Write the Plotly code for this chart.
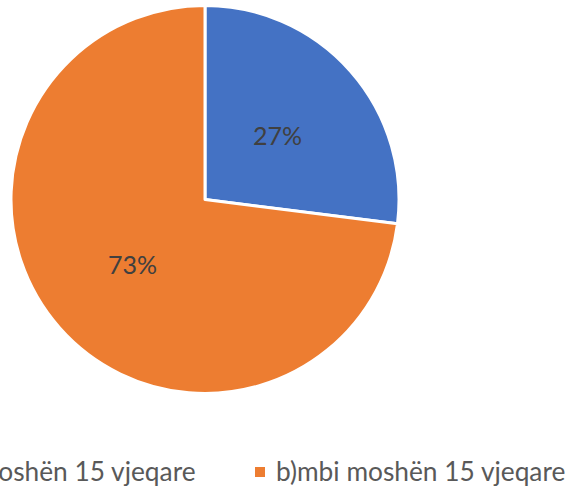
import math
import plotly.graph_objects as go

labels = ["a)nën moshën 15 vjeqare", "b)mbi moshën 15 vjeqare"]
values = [27, 73]
colors = ["#4472C4", "#ED7D31"]

W, H = 565, 486
cx, cy, r = 205, 199.5, 194  # pie centre / radius in pixels (from top-left)


def px_x(x):
    return x / W


def px_y(y):
    return (H - y) / H


fig = go.Figure()
fig.add_trace(go.Pie(
    labels=labels,
    values=values,
    sort=False,
    direction="clockwise",
    rotation=0,
    marker=dict(colors=colors, line=dict(color="white", width=3)),
    textinfo="none",
    domain=dict(x=[px_x(cx - r), px_x(cx + r)], y=[px_y(cy + r), px_y(cy - r)]),
    hoverinfo="label+percent",
    showlegend=False,
))

# percentage labels at half radius along each slice's mid-angle
total = sum(values)
start = 0.0
for v in values:
    mid = (start + v / 2) / total * 2 * math.pi
    start += v
    fig.add_annotation(
        x=px_x(cx + 0.5 * r * math.sin(mid)),
        y=px_y(cy - 0.5 * r * math.cos(mid)),
        xref="paper", yref="paper",
        text=f"{round(v / total * 100)}%", showarrow=False,
        xanchor="center", yanchor="middle",
        font=dict(family="Lato", size=25, color="#404040"),
    )

# legend row along the bottom: colour square + label for each slice
legend_y = 472
legend_entries = [
    # (square left edge, text anchor x, text anchor side)
    (-18, 198, "right"),
    (255, 274, "left"),
]
for (sq_x, tx, anchor), lab, col in zip(legend_entries, labels, colors):
    fig.add_shape(
        type="rect", xref="paper", yref="paper",
        x0=px_x(sq_x), x1=px_x(sq_x + 10),
        y0=px_y(legend_y + 5), y1=px_y(legend_y - 5),
        fillcolor=col, line=dict(width=0),
    )
    fig.add_annotation(
        x=px_x(tx), y=px_y(legend_y - 1), xref="paper", yref="paper",
        text=lab, showarrow=False, xanchor=anchor, yanchor="middle",
        font=dict(family="Lato", size=26.3, color="#595959"),
    )

fig.update_layout(
    width=W, height=H,
    margin=dict(l=0, r=0, t=0, b=0, autoexpand=False),
    paper_bgcolor="white",
    plot_bgcolor="white",
)

fig.write_html("out.html")
